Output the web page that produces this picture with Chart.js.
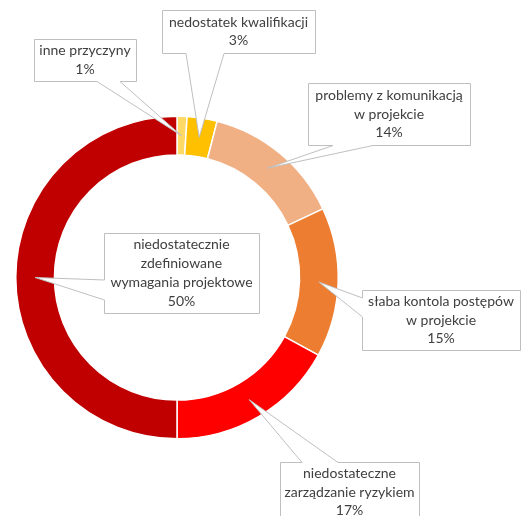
<!DOCTYPE html>
<html>
<head>
<meta charset="utf-8">
<script src="https://cdn.jsdelivr.net/npm/chart.js@4"></script>
<style>
    html, body { margin: 0; padding: 0; background: #fff; overflow: hidden; }
    canvas { display: block; }
</style>
</head>
<body>
<canvas id="causesChart" width="523" height="516"></canvas>
<script>
// Przyczyny niepowodzeń projektów
const categories = [
    ['inne przyczyny'],
    ['nedostatek kwalifikacji'],
    ['problemy z komunikacją', 'w projekcie'],
    ['słaba kontola postępów', 'w projekcie'],
    ['niedostateczne', 'zarządzanie ryzykiem'],
    ['niedostatecznie', 'zdefiniowane', 'wymagania projektowe']
];
const shares = [1, 3, 14, 15, 17, 50];
const sliceColors = ['#FFD966', '#FFC000', '#F0B083', '#ED7D31', '#FF0000', '#C00000'];

// callout boxes: x, y, w, h and where the pointer leaves the box
const callouts = [
    { x: 34,  y: 39,  w: 102, h: 42, side: 'bottom', a: 97,  b: 120 },
    { x: 162, y: 10,  w: 153, h: 43, side: 'bottom', a: 186, b: 224 },
    { x: 308, y: 83,  w: 162, h: 62, side: 'bottom', a: 333, b: 373 },
    { x: 362, y: 290, w: 158, h: 60, side: 'left',   a: 298, b: 317 },
    { x: 280, y: 462, w: 139, h: 60, side: 'top',    a: 302, b: 338 },
    { x: 104, y: 233, w: 155, h: 80, side: 'left',   a: 280, b: 300 }
];

const calloutPlugin = {
    id: 'callouts',
    afterDraw(chart) {
        const ctx = chart.ctx;
        const arcs = chart.getDatasetMeta(0).data;
        const total = shares.reduce((s, v) => s + v, 0);
        const lineH = 18.7;

        arcs.forEach((arc, i) => {
            const c = callouts[i];
            const tip = arc.getCenterPoint();
            const x0 = c.x + 0.5, y0 = c.y + 0.5, x1 = c.x + c.w + 0.5, y1 = c.y + c.h + 0.5;
            let pts;
            if (c.side === 'bottom') {
                pts = [[x0, y0], [x1, y0], [x1, y1], [c.b, y1], [tip.x, tip.y], [c.a, y1], [x0, y1]];
            } else if (c.side === 'top') {
                pts = [[x0, y0], [c.a, y0], [tip.x, tip.y], [c.b, y0], [x1, y0], [x1, y1], [x0, y1]];
            } else {
                pts = [[x0, y0], [x1, y0], [x1, y1], [x0, y1], [x0, c.b], [tip.x, tip.y], [x0, c.a]];
            }

            ctx.save();
            ctx.beginPath();
            pts.forEach((p, k) => k ? ctx.lineTo(p[0], p[1]) : ctx.moveTo(p[0], p[1]));
            ctx.closePath();
            ctx.fillStyle = '#ffffff';
            ctx.fill();
            ctx.strokeStyle = '#BFBFBF';
            ctx.lineWidth = 1;
            ctx.stroke();

            const lines = categories[i].concat([Math.round(shares[i] / total * 100) + '%']);
            ctx.fillStyle = '#404040';
            ctx.font = '14px Lato, "Open Sans", sans-serif';
            ctx.textAlign = 'center';
            ctx.textBaseline = 'middle';
            const cx = c.x + c.w / 2;
            const cy = c.y + c.h / 2;
            lines.forEach((t, k) => {
                ctx.fillText(t, cx, cy + (k - (lines.length - 1) / 2) * lineH);
            });
            ctx.restore();
        });
    }
};

new Chart(document.getElementById('causesChart'), {
    type: 'doughnut',
    data: {
        labels: categories.map(l => l.join(' ')),
        datasets: [{
            data: shares,
            backgroundColor: sliceColors,
            borderColor: '#ffffff',
            borderWidth: 1.5
        }]
    },
    options: {
        responsive: false,
        animation: false,
        cutout: '76%',
        layout: { padding: { left: 15, top: 115, right: 184, bottom: 76 } },
        plugins: {
            legend: { display: false },
            tooltip: { enabled: false }
        }
    },
    plugins: [calloutPlugin]
});
</script>
</body>
</html>
